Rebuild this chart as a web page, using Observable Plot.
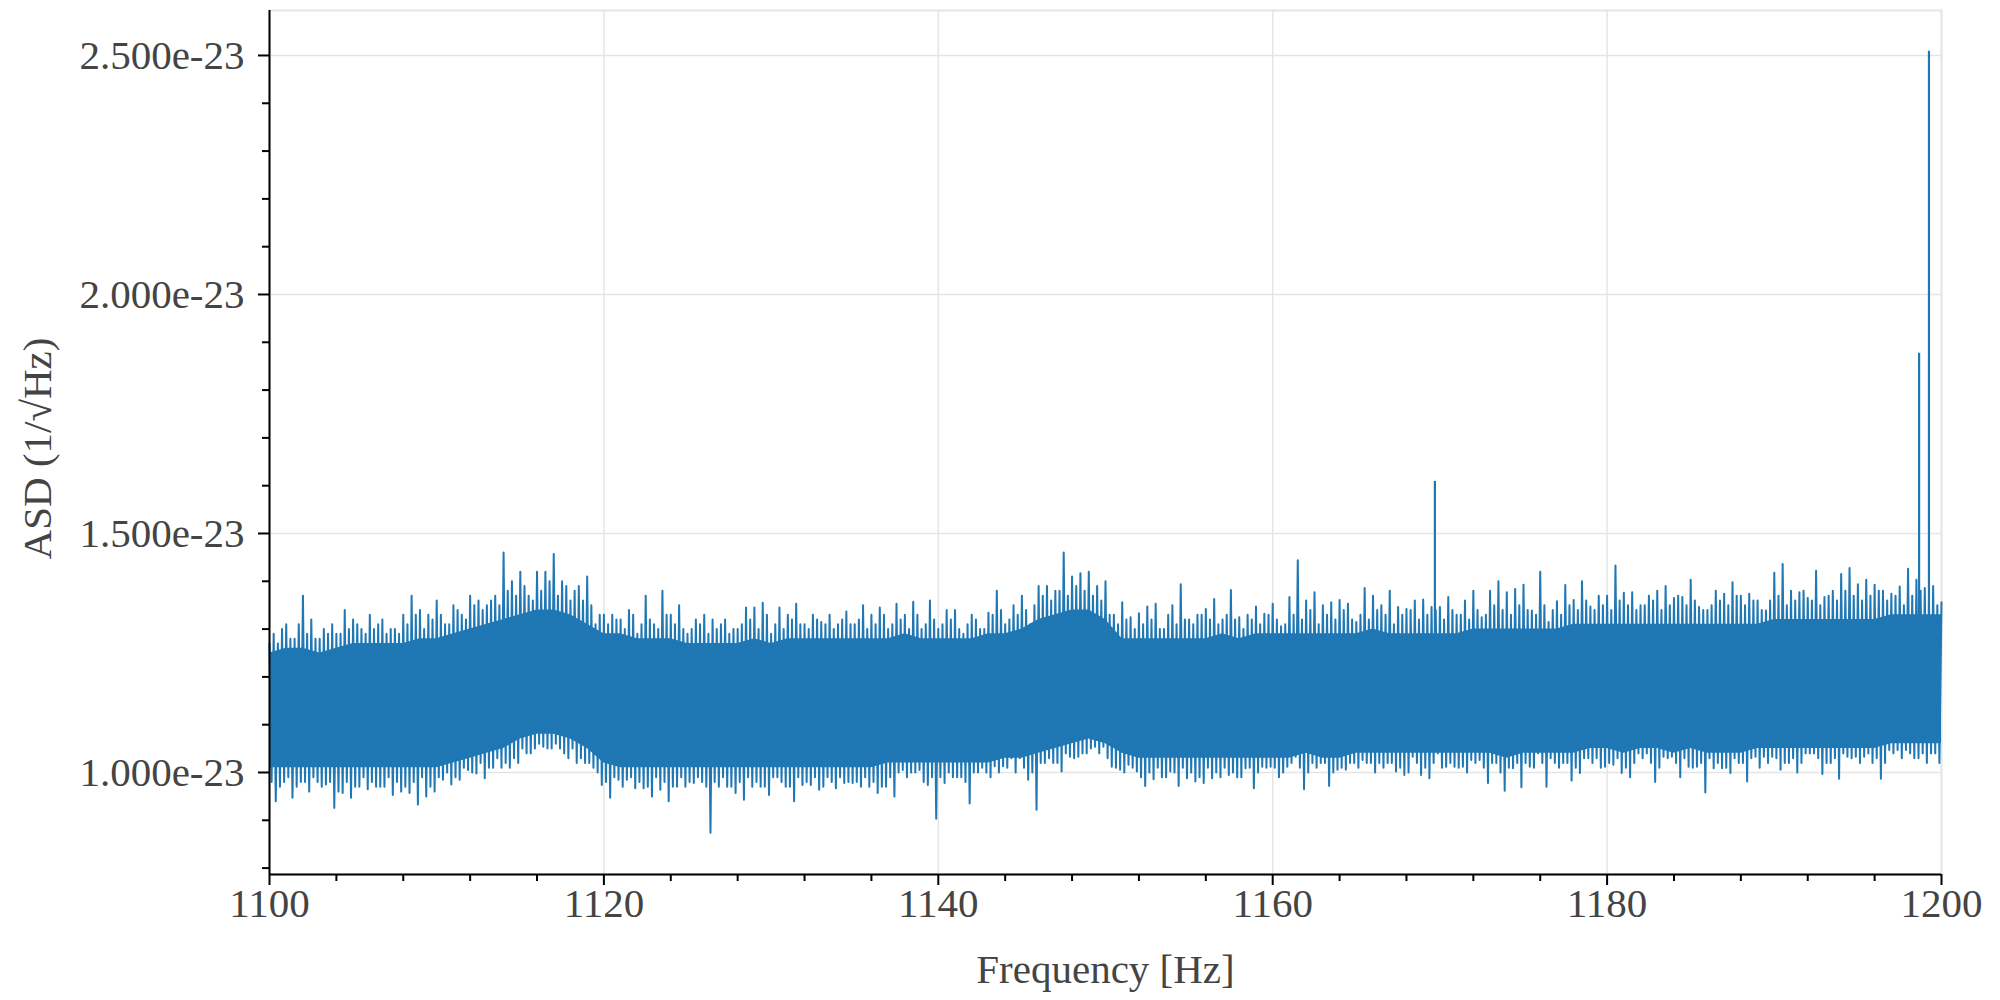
<!DOCTYPE html>
<html>
<head>
<meta charset="utf-8">
<script src="https://cdn.jsdelivr.net/npm/d3@7"></script>
<script src="https://cdn.jsdelivr.net/npm/@observablehq/plot@0.6"></script>
<style>
  html, body { margin: 0; padding: 0; background: #fff; }
</style>
</head>
<body>
<div id="chart"></div>
<script>
// ASD values are in units of 1e-23 (1/√Hz)
const unit = 1e-23;
const xLabel = "Frequency [Hz]";
const yLabel = "ASD (1/√Hz)";

const xDomain = [1100, 1200];
const yDomain = [0.7866, 2.5941];
const xMajorTicks = [1100, 1120, 1140, 1160, 1180, 1200];
const xMinorTicks = [1104, 1108, 1112, 1116, 1124, 1128, 1132, 1136, 1144, 1148, 1152, 1156, 1164, 1168, 1172, 1176, 1184, 1188, 1192, 1196];
const yMajorTicks = [1.0, 1.5, 2.0, 2.5];
const yMinorTicks = [0.8, 0.9, 1.1, 1.2, 1.3, 1.4, 1.6, 1.7, 1.8, 1.9, 2.1, 2.2, 2.3, 2.4];

const sampleStep = 0.5;

// highest upper excursions, one per 0.5 Hz slot, at 1100, 1100.5, ... 1200
const topStart = 1100;
const topValues = [
  1.27, 1.27, 1.31, 1.28, 1.37, 1.32, 1.28, 1.29, 1.29, 1.34,
  1.32, 1.30, 1.33, 1.31, 1.29, 1.30, 1.33, 1.37, 1.34, 1.33,
  1.36, 1.31, 1.35, 1.33, 1.37, 1.36, 1.35, 1.37, 1.46, 1.40,
  1.42, 1.37, 1.42, 1.42, 1.457, 1.40, 1.36, 1.39, 1.41, 1.31,
  1.33, 1.33, 1.32, 1.34, 1.29, 1.37, 1.31, 1.38, 1.33, 1.35,
  1.29,
  1.32, 1.33, 1.32, 1.31, 1.29, 1.30, 1.345, 1.345, 1.355, 1.29,
  1.345, 1.33, 1.353, 1.31, 1.33, 1.315, 1.33, 1.31, 1.337, 1.31,
  1.35, 1.33, 1.345, 1.30, 1.353, 1.33, 1.357, 1.30, 1.36, 1.30,
  1.34, 1.34, 1.29, 1.33, 1.30, 1.334, 1.38, 1.31, 1.35, 1.37,
  1.31, 1.39, 1.39, 1.38, 1.46, 1.41, 1.417, 1.42, 1.39, 1.40,
  1.33, 1.356, 1.325, 1.333, 1.347, 1.353, 1.30, 1.35, 1.394, 1.32,
  1.33, 1.342, 1.363, 1.32, 1.382, 1.325, 1.33, 1.347, 1.332, 1.353,
  1.306, 1.367, 1.444, 1.36, 1.377, 1.35, 1.356, 1.361, 1.353, 1.315,
  1.386, 1.37, 1.35, 1.38, 1.346, 1.342, 1.36, 1.362, 1.346, 1.346,
  1.367, 1.33, 1.36, 1.38, 1.325, 1.38, 1.40, 1.377, 1.384, 1.393,
  1.339, 1.42, 1.315, 1.358, 1.392, 1.361, 1.40, 1.347, 1.37, 1.37,
  1.433, 1.376, 1.377, 1.35, 1.37, 1.38, 1.39, 1.365, 1.367, 1.403,
  1.346, 1.34, 1.38, 1.374, 1.398, 1.37, 1.374, 1.36, 1.339, 1.418,
  1.436, 1.38, 1.377, 1.365, 1.422, 1.367, 1.38, 1.415, 1.428, 1.394,
  1.403, 1.393, 1.38, 1.374, 1.389, 1.426, 1.403, 1.386, 1.39, 1.356
];

// secondary upper excursions, at 1100.25, 1100.75, ... 1199.75
const top2Start = 1100.25;
const top2Values = [
  1.29, 1.30, 1.28, 1.31, 1.29, 1.28, 1.30, 1.31, 1.29, 1.30,
  1.31, 1.29, 1.30, 1.32, 1.30, 1.29, 1.31, 1.33, 1.30, 1.32,
  1.33, 1.31, 1.34, 1.32, 1.35, 1.34, 1.36, 1.35, 1.38, 1.37,
  1.39, 1.36, 1.38, 1.40, 1.37, 1.39, 1.38, 1.36, 1.35, 1.33,
  1.31, 1.32, 1.30, 1.33, 1.31, 1.32, 1.30, 1.33, 1.31, 1.30,
  1.30, 1.31, 1.29, 1.30, 1.32, 1.30, 1.31, 1.32, 1.30, 1.33,
  1.31, 1.30, 1.32, 1.31, 1.30, 1.32, 1.31, 1.30, 1.32, 1.31,
  1.32, 1.30, 1.31, 1.33, 1.31, 1.32, 1.30, 1.33, 1.31, 1.32,
  1.31, 1.32, 1.30, 1.31, 1.32, 1.30, 1.33, 1.34, 1.32, 1.33,
  1.34, 1.35, 1.37, 1.36, 1.38, 1.37, 1.39, 1.38, 1.37, 1.36,
  1.33, 1.31, 1.32, 1.30, 1.31, 1.32, 1.30, 1.33, 1.31, 1.32,
  1.31, 1.33, 1.32, 1.31, 1.33, 1.32, 1.30, 1.32, 1.31, 1.33,
  1.32, 1.31, 1.33, 1.32, 1.34, 1.31, 1.33, 1.32, 1.34, 1.32,
  1.33, 1.32, 1.34, 1.33, 1.31, 1.33, 1.34, 1.32, 1.33, 1.34,
  1.32, 1.34, 1.33, 1.32, 1.34, 1.33, 1.35, 1.34, 1.33, 1.35,
  1.34, 1.33, 1.35, 1.34, 1.33, 1.35, 1.34, 1.36, 1.34, 1.35,
  1.34, 1.36, 1.35, 1.34, 1.35, 1.36, 1.34, 1.35, 1.37, 1.35,
  1.36, 1.34, 1.35, 1.36, 1.35, 1.37, 1.35, 1.36, 1.34, 1.36,
  1.37, 1.35, 1.36, 1.38, 1.36, 1.35, 1.37, 1.36, 1.38, 1.37,
  1.36, 1.37, 1.38, 1.36, 1.37, 1.35, 1.37, 1.38, 1.36, 1.35
];

// deepest lower excursions, one per 0.5 Hz slot, at 1100.375, 1100.875, ... 1199.875
const bottomStart = 1100.375;
const bottomValues = [
  0.94, 0.98, 0.947, 0.98, 0.96, 0.98, 0.975, 0.926, 0.957, 0.947,
  0.97, 0.965, 0.97, 0.97, 0.953, 0.96, 0.957, 0.933, 0.95, 0.96,
  0.985, 0.975, 0.985, 1.005, 0.998, 0.988, 1.01, 1.01, 1.01, 1.02,
  1.04, 1.05, 1.054, 1.05, 1.05, 1.03, 1.02, 1.02, 1.01, 0.974,
  0.947, 0.985, 0.985, 0.967, 0.967, 0.95, 0.964, 0.94, 0.97, 0.97,
  0.978, 0.98, 0.874, 0.97, 0.97, 0.957, 0.943, 0.97, 0.97, 0.953,
  0.99, 0.97, 0.94, 0.974, 0.974, 0.964, 0.99, 0.967, 0.978, 0.978,
  0.97, 0.97, 0.957, 0.97, 0.95, 1.005, 1.0, 1.005, 0.974, 0.903,
  0.978, 0.99, 0.99, 0.935, 1.0, 1.0, 1.013, 1.013, 1.03, 1.03,
  0.985, 0.922, 1.02, 1.02, 1.002, 1.033, 1.033, 1.04, 1.054, 1.054,
  1.012, 1.006, 1.016, 1.002, 0.972, 0.986, 0.99, 1.002, 0.972, 0.988,
  0.981, 0.978, 0.988, 0.99, 0.995, 0.99, 1.009, 0.967, 1.012, 1.012,
  0.99, 1.012, 1.033, 0.965, 1.02, 1.02, 0.972, 1.006, 1.006, 1.02,
  1.026, 1.02, 1.02, 1.02, 1.002, 0.995, 1.033, 0.995, 0.988, 1.04,
  1.012, 1.012, 1.012, 1.026, 1.026, 0.978, 1.02, 0.962, 1.009, 0.969,
  1.012, 1.04, 0.97, 1.02, 1.02, 0.983, 0.999, 1.03, 1.03, 1.012,
  1.016, 0.999, 0.99, 1.04, 1.04, 0.98, 1.033, 1.033, 0.99, 1.012,
  1.012, 0.958, 1.009, 1.009, 0.999, 1.02, 0.981, 1.033, 1.033, 1.033,
  1.006, 1.02, 1.0, 1.04, 1.04, 0.997, 1.02, 0.987, 1.033, 1.033,
  1.033, 1.02, 0.987, 1.047, 1.047, 1.047, 1.03, 1.04, 1.04, 1.02
];

// secondary lower excursions, at 1100.125, 1100.625, ... 1199.625
const bottom2Start = 1100.125;
const bottom2Values = [
  0.98, 0.97, 0.99, 0.97, 0.98, 0.99, 0.97, 0.98, 0.96, 0.98,
  0.97, 0.99, 0.98, 0.97, 0.99, 0.98, 0.97, 0.98, 0.99, 0.97,
  0.99, 1.00, 0.99, 1.01, 1.00, 1.02, 1.01, 1.03, 1.02, 1.03,
  1.05, 1.04, 1.06, 1.05, 1.06, 1.04, 1.05, 1.03, 1.02, 1.00,
  0.98, 0.99, 0.97, 0.99, 0.98, 0.97, 0.99, 0.98, 0.97, 0.99,
  0.98, 0.99, 0.97, 0.98, 0.99, 0.97, 0.98, 0.99, 0.98, 0.97,
  0.99, 0.98, 0.97, 0.99, 0.98, 0.99, 0.97, 0.98, 0.99, 0.98,
  0.98, 0.99, 0.98, 0.97, 0.99, 1.00, 0.99, 1.00, 0.98, 0.99,
  0.99, 1.00, 0.99, 0.98, 1.00, 1.01, 0.99, 1.00, 1.01, 1.00,
  1.01, 1.00, 1.02, 1.03, 1.02, 1.04, 1.03, 1.04, 1.05, 1.04,
  1.03, 1.01, 1.00, 1.01, 0.99, 1.00, 1.01, 0.99, 1.00, 1.01,
  1.00, 0.99, 1.01, 1.00, 1.01, 1.00, 0.99, 1.01, 1.00, 1.01,
  1.01, 1.00, 1.02, 1.01, 1.00, 1.01, 1.02, 1.00, 1.01, 1.02,
  1.01, 1.02, 1.00, 1.01, 1.02, 1.01, 1.00, 1.02, 1.01, 1.02,
  1.01, 1.02, 1.01, 1.00, 1.02, 1.01, 1.02, 1.00, 1.01, 1.02,
  1.02, 1.01, 1.02, 1.03, 1.01, 1.02, 1.01, 1.03, 1.02, 1.01,
  1.02, 1.03, 1.01, 1.02, 1.03, 1.02, 1.01, 1.03, 1.02, 1.03,
  1.01, 1.02, 1.03, 1.02, 1.01, 1.03, 1.02, 1.03, 1.01, 1.02,
  1.03, 1.02, 1.03, 1.02, 1.04, 1.03, 1.02, 1.03, 1.04, 1.03,
  1.02, 1.04, 1.03, 1.02, 1.04, 1.03, 1.04, 1.03, 1.02, 1.04
];

// solid core of the noise band, every 1 Hz from 1100 to 1200
const coreStart = 1100;
const coreTop = [
  1.25, 1.26, 1.26, 1.25, 1.26, 1.27, 1.27, 1.27, 1.27, 1.28,
  1.28, 1.29, 1.30, 1.31, 1.32, 1.33, 1.34, 1.34, 1.33, 1.31,
  1.29, 1.29, 1.28, 1.28, 1.28, 1.27, 1.27, 1.27, 1.27, 1.28,
  1.27, 1.28, 1.28, 1.28, 1.28, 1.28, 1.28, 1.28, 1.29, 1.28,
  1.28, 1.28, 1.28, 1.29, 1.29, 1.30, 1.32, 1.33, 1.34, 1.34,
  1.32, 1.28, 1.28, 1.28, 1.28, 1.28, 1.28, 1.29, 1.28, 1.29,
  1.29, 1.29, 1.29, 1.29, 1.29, 1.29, 1.30, 1.29, 1.29, 1.29,
  1.29, 1.29, 1.30, 1.30, 1.30, 1.30, 1.30, 1.30, 1.31, 1.31,
  1.31, 1.31, 1.31, 1.31, 1.31, 1.31, 1.31, 1.31, 1.31, 1.31,
  1.32, 1.32, 1.32, 1.32, 1.32, 1.32, 1.32, 1.33, 1.33, 1.33,
  1.33
];
const coreBottom = [
  1.01, 1.01, 1.01, 1.01, 1.01, 1.01, 1.01, 1.01, 1.01, 1.01,
  1.01, 1.02, 1.03, 1.04, 1.05, 1.07, 1.08, 1.08, 1.07, 1.05,
  1.02, 1.01, 1.01, 1.01, 1.01, 1.01, 1.01, 1.01, 1.01, 1.01,
  1.01, 1.01, 1.01, 1.01, 1.01, 1.01, 1.01, 1.02, 1.02, 1.02,
  1.02, 1.02, 1.02, 1.02, 1.03, 1.03, 1.04, 1.05, 1.06, 1.07,
  1.06, 1.04, 1.03, 1.03, 1.03, 1.03, 1.03, 1.03, 1.03, 1.03,
  1.03, 1.03, 1.04, 1.03, 1.03, 1.04, 1.04, 1.04, 1.04, 1.04,
  1.04, 1.04, 1.04, 1.04, 1.03, 1.04, 1.04, 1.04, 1.04, 1.05,
  1.05, 1.04, 1.05, 1.05, 1.04, 1.05, 1.04, 1.04, 1.04, 1.05,
  1.05, 1.05, 1.05, 1.05, 1.05, 1.05, 1.05, 1.06, 1.06, 1.06,
  1.06
];

// narrow spectral lines
const lineFreq = [1169.7, 1198.66, 1199.25];
const lineBase = [1.12, 1.12, 1.12];
const linePeak = [1.609, 1.877, 2.509];

// one continuous trace that swings between upper and lower excursions
const trace = [];
topValues.forEach((v, i) => {
  trace.push({f: topStart + i * sampleStep, v});
  if (i < bottomValues.length) {
    trace.push({f: bottom2Start + i * sampleStep, v: bottom2Values[i]});
    trace.push({f: top2Start + i * sampleStep, v: top2Values[i]});
    trace.push({f: bottomStart + i * sampleStep, v: bottomValues[i]});
  }
});
const core = coreTop.map((hi, i) => ({f: coreStart + i, lo: coreBottom[i], hi}));
const spikes = lineFreq.map((f, i) => ({f, lo: lineBase[i], hi: linePeak[i]}));

const blue = "#1f77b4";
const gridColor = "#e5e5e5";
const fontSize = 41;
const fmtY = d => d3.format(".3e")(d * unit);

const chart = Plot.plot({
  width: 2000,
  height: 1000,
  marginLeft: 269,
  marginRight: 59,
  marginTop: 10,
  marginBottom: 126,
  x: {domain: xDomain},
  y: {domain: yDomain},
  style: {fontFamily: "'Liberation Serif', 'Times New Roman', serif", fontSize: fontSize + "px", background: "#fff", color: "#444"},
  marks: [
    Plot.gridX(xMajorTicks, {stroke: gridColor, strokeOpacity: 1, strokeWidth: 1.5}),
    Plot.gridY(yMajorTicks, {stroke: gridColor, strokeOpacity: 1, strokeWidth: 1.5}),
    Plot.frame({stroke: gridColor, strokeWidth: 2}),
    Plot.areaY(core, {x: "f", y1: "lo", y2: "hi", fill: blue, curve: "linear"}),
    Plot.line(trace, {x: "f", y: "v", stroke: blue, strokeWidth: 2, curve: "linear"}),
    Plot.ruleX(spikes, {x: "f", y1: "lo", y2: "hi", stroke: blue, strokeWidth: 2.2}),
    Plot.ruleX([xDomain[0]], {stroke: "black", strokeWidth: 2}),
    Plot.ruleY([yDomain[0]], {stroke: "black", strokeWidth: 2}),
    Plot.axisX(xMajorTicks, {tickSize: 11, tickPadding: 2, tickFormat: d3.format("d"), stroke: "black", strokeWidth: 2, fill: "#444", fontSize, label: null}),
    Plot.axisX(xMinorTicks, {tickSize: 7, tickFormat: () => "", stroke: "black", strokeWidth: 2, label: null}),
    Plot.axisY(yMajorTicks, {tickSize: 11, tickPadding: 14, tickFormat: fmtY, stroke: "black", strokeWidth: 2, fill: "#444", fontSize, label: null}),
    Plot.axisY(yMinorTicks, {tickSize: 7, tickFormat: () => "", stroke: "black", strokeWidth: 2, label: null}),
    Plot.text([xLabel], {text: d => d, frameAnchor: "bottom", textAnchor: "middle", lineAnchor: "middle", dy: 95, fontSize, fill: "#444"}),
    Plot.text([yLabel], {text: d => d, frameAnchor: "left", textAnchor: "middle", lineAnchor: "middle", rotate: -90, dx: -232, dy: 6, fontSize, fill: "#444"})
  ]
});
document.getElementById("chart").appendChild(chart);
</script>
</body>
</html>
